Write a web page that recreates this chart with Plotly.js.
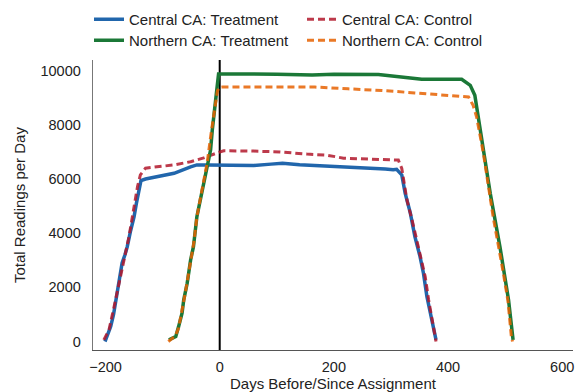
<!DOCTYPE html>
<html>
<head>
<meta charset="utf-8">
<script src="https://cdn.plot.ly/plotly-3.0.1.min.js"></script>
<style>html,body{margin:0;padding:0;background:#fff;}#chart{width:577px;height:392px;}</style>
</head>
<body>
<div id="chart"></div>
<script>
// Central CA: Treatment
const centralTreatDays = [-201, -196, -191, -186, -182, -176, -171, -166, -162, -156, -150, -146, -142, -138, -130, -110, -80, -51, -40, -20, 0, 30, 60, 90, 110, 140, 170, 199, 230, 258, 290, 304, 310, 319, 325, 334, 342, 351, 357, 363, 372, 379];
const centralTreatVals = [0, 250, 550, 1000, 1540, 2300, 2900, 3200, 3500, 4100, 4610, 5100, 5600, 5940, 6000, 6090, 6210, 6450, 6520, 6520, 6520, 6490, 6500, 6550, 6580, 6530, 6500, 6480, 6450, 6420, 6370, 6340, 6360, 6150, 5470, 4740, 3870, 3135, 2520, 1660, 680, 60];
// Central CA: Control
const centralCtrlDays = [-203, -194, -185, -174, -168, -159, -153, -144, -139, -130, -110, -80, -51, -28, -5, 7, 60, 106, 153, 188, 217, 258, 305, 313, 319, 328, 337, 348, 360, 366, 375, 379];
const centralCtrlVals = [60, 430, 1290, 2400, 2950, 3870, 4610, 5720, 6150, 6400, 6450, 6520, 6640, 6780, 6960, 7045, 7030, 7000, 6920, 6880, 6770, 6730, 6700, 6700, 6390, 5230, 4490, 3500, 2400, 1540, 430, 0];
// Northern CA: Treatment
const northTreatDays = [-89, -84, -77, -72, -66, -63, -57, -51, -46, -40, -34, -29, -22, -16, -13, -7, -4, -2, 0, 50, 100, 162, 200, 278, 330, 354, 424, 439, 447, 456, 474, 491, 506, 514];
const northTreatVals = [60, 120, 180, 550, 1050, 1540, 2150, 3010, 3500, 4610, 5230, 5800, 6580, 7070, 7810, 8910, 9650, 9880, 9880, 9880, 9870, 9840, 9870, 9860, 9740, 9680, 9680, 9460, 9090, 7930, 5470, 3500, 1540, 60];
// Northern CA: Control
const northCtrlDays = [-90, -84, -78, -72, -66, -62, -57, -51, -45, -40, -34, -28, -22, -15, -8, -4, -1, 4, 50, 100, 167, 225, 284, 342, 401, 436, 444, 450, 462, 479, 497, 505, 511, 513];
const northCtrlVals = [0, 100, 200, 500, 1100, 1600, 2200, 3000, 3700, 4600, 5300, 5900, 6600, 7700, 8700, 9250, 9380, 9395, 9400, 9400, 9395, 9330, 9270, 9180, 9090, 9030, 8720, 8300, 6950, 4610, 2520, 1500, 180, 0];

const seriesNames = ["Central CA: Treatment", "Central CA: Control", "Northern CA: Treatment", "Northern CA: Control"];
const xTickVals = [-200, 0, 200, 400, 600];
const yTickVals = [0, 2000, 4000, 6000, 8000, 10000];
const yTickText = ["0", "2000", "4000", "6000", "8000", "10000"];
const xTitle = "Days Before/Since Assignment";
const yTitle = "Total Readings per Day";

const FONT = "Liberation Sans, Arial, Helvetica, sans-serif";
const dashPat = "7px,4px";

const traces = [
  {x: centralTreatDays, y: centralTreatVals, name: seriesNames[0], mode: "lines", legend: "legend",
   line: {color: "#2166ac", width: 3.5}},
  {x: centralCtrlDays, y: centralCtrlVals, name: seriesNames[1], mode: "lines", legend: "legend2",
   line: {color: "#b2182b", width: 3, dash: dashPat}, opacity: 0.85},
  {x: northTreatDays, y: northTreatVals, name: seriesNames[2], mode: "lines", legend: "legend3",
   line: {color: "#1b7837", width: 3.5}},
  {x: northCtrlDays, y: northCtrlVals, name: seriesNames[3], mode: "lines", legend: "legend4",
   line: {color: "#e66101", width: 3, dash: dashPat}, opacity: 0.85}
];

function leg(xpx, ypx) {
  return {
    xref: "container", yref: "container",
    x: xpx / 577, xanchor: "left", y: 1 - ypx / 392, yanchor: "top",
    font: {family: FONT, size: 15, color: "#222"},
    bgcolor: "rgba(0,0,0,0)", borderwidth: 0
  };
}

const layout = {
  width: 577, height: 392,
  margin: {l: 93, r: 4, t: 60, b: 42, pad: 0, autoexpand: false},
  paper_bgcolor: "#fff", plot_bgcolor: "#fff",
  font: {family: FONT, size: 14.5, color: "#222"},
  showlegend: true,
  legend: leg(89, 3),
  legend2: leg(302, 3),
  legend3: leg(89, 24),
  legend4: leg(302, 24),
  xaxis: {
    range: [-222, 619], tickvals: xTickVals, showgrid: false, zeroline: false,
    showline: true, linecolor: "#555", linewidth: 1.3,
    ticks: "outside", ticklen: 3, tickcolor: "rgba(0,0,0,0)",
    tickfont: {family: FONT, size: 14.5, color: "#222"}
  },
  yaxis: {
    range: [-314, 10395], tickvals: yTickVals, ticktext: yTickText, showgrid: false, zeroline: false,
    showline: true, linecolor: "#777", linewidth: 1.3,
    ticks: "outside", ticklen: 8, tickcolor: "rgba(0,0,0,0)",
    tickfont: {family: FONT, size: 14.5, color: "#222"}
  },
  annotations: [
    {text: xTitle, xref: "paper", yref: "paper", x: 0.5, y: (350 - 383) / 290,
     xanchor: "center", yanchor: "middle", showarrow: false,
     font: {family: FONT, size: 15, color: "#222"}},
    {text: yTitle, xref: "paper", yref: "paper", x: (19 - 93) / 480, y: 0.5, textangle: -90,
     xanchor: "center", yanchor: "middle", showarrow: false,
     font: {family: FONT, size: 15, color: "#222"}}
  ],
  shapes: [
    {type: "line", xref: "x", yref: "paper", x0: 0, x1: 0, y0: 0, y1: 1,
     line: {color: "#000", width: 2}, layer: "below"}
  ]
};

Plotly.newPlot("chart", traces, layout, {displayModeBar: false, staticPlot: true});
</script>
</body>
</html>
